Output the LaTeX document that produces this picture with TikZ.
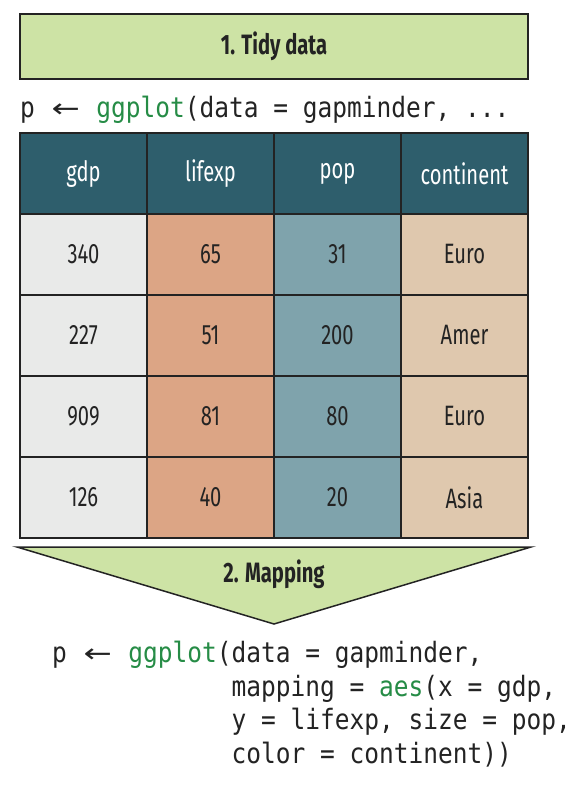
\documentclass[tikz,border=0pt]{standalone}
\usepackage{fontspec}
\usepackage{graphicx}
\setmainfont{Fira Sans}[FakeStretch=0.72]
\newfontfamily\codefont{DejaVu Sans Mono}[FakeStretch=0.875]
\newfontfamily\arrowfont{DejaVu Sans}
\usetikzlibrary{positioning}

\definecolor{stepgreen}{RGB}{205,227,165}
\definecolor{headblue}{RGB}{46,94,108}
\definecolor{colgdp}{RGB}{233,234,233}
\definecolor{collife}{RGB}{220,165,133}
\definecolor{colpop}{RGB}{127,163,172}
\definecolor{colcont}{RGB}{223,200,174}
\definecolor{codegreen}{RGB}{38,140,70}
\definecolor{ink}{RGB}{35,35,35}

\tikzset{
  stepbox/.style={draw=ink,line width=1.5pt,fill=stepgreen,inner sep=0pt,
    font=\fontsize{28}{30}\selectfont\bfseries,text=ink},
  cell/.style={draw=ink,line width=1.5pt,minimum width=127pt,minimum height=81pt,
    inner sep=0pt,font=\fontsize{28}{30}\selectfont,text=ink},
  headcell/.style={cell,fill=headblue,text=white},
  code/.style={inner sep=0pt,align=left,text=ink,
    font=\codefont\fontsize{28}{33.5}\selectfont}
}
\newcommand{\fn}[1]{\textcolor{codegreen}{#1}}
\newcommand{\la}{\makebox[32pt]{\arrowfont\fontsize{26}{30}\selectfont\scalebox{1.3}[1]{←}}}

\begin{document}
\begin{tikzpicture}[x=1pt,y=-1pt]
        \useasboundingbox (0,0) rectangle (581,787);
        % 1. tidy data
        \node[stepbox,minimum width=508pt,minimum height=65pt] (tidy) at (274,46.5) {1. Tidy data};
        \node[code,anchor=base west] (call) at (20,117) {p \la{} \fn{ggplot}(data = gapminder, ...};
        % header row
        \foreach \head/\col [count=\i] in {gdp/colgdp,lifexp/collife,pop/colpop,continent/colcont}
        \node[headcell] (h\i) at ({-43.5+127*\i},173.5) {\head};
        % data rows
        \foreach \a/\b/\c/\d [count=\r] in {340/65/31/Euro,227/51/200/Amer,909/81/80/Euro,126/40/20/Asia}
        {
        \node[cell,fill=colgdp] (c\r-1) at (83.5,{173.5+81*\r}) {\a};
        \node[cell,fill=collife] (c\r-2) at (210.5,{173.5+81*\r}) {\b};
        \node[cell,fill=colpop] (c\r-3) at (337.5,{173.5+81*\r}) {\c};
        \node[cell,fill=colcont] (c\r-4) at (464.5,{173.5+81*\r}) {\d};
        }
        % 2. mapping
        \coordinate (tl) at (17,547);
        \coordinate (tr) at (531,547);
        \coordinate (apex) at (274,624);
        \draw[draw=ink,line width=1.5pt,fill=stepgreen,line join=miter] (tl) -- (tr) -- (apex) -- cycle;
        \node[font=\fontsize{28}{30}\selectfont\bfseries,text=ink,inner sep=0pt] (mapping) at (274,574) {2. Mapping};
        % base of a multi-line node is its last line
        \node[code,anchor=base west] (aes) at (52,763) {p \la{} \fn{ggplot}(data = gapminder,\\
          \hphantom{p \la{} ggplot(}mapping = \fn{aes}(x = gdp,\\
          \hphantom{p \la{} ggplot(}y = lifexp, size = pop,\\
          \hphantom{p \la{} ggplot(}color = continent))};
\end{tikzpicture}
\end{document}
